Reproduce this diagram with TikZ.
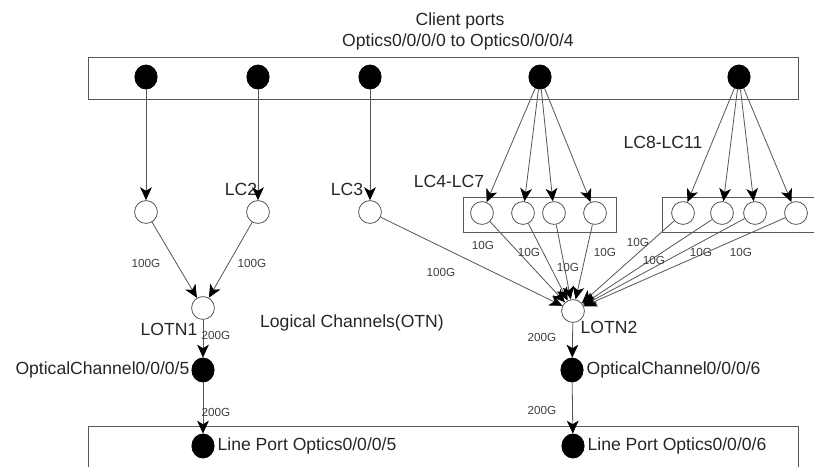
\documentclass[tikz,border=0pt]{standalone}
\usepackage{fontspec}
\setmainfont{Liberation Sans}
\usetikzlibrary{arrows.meta,positioning,calc,shapes.geometric}
\tikzset{port/.style={draw=black,fill=black,ellipse,minimum width=19pt,minimum height=20.5pt,inner sep=0pt}}
\tikzset{chan/.style={draw=black!65,fill=white,circle,minimum size=19.5pt,inner sep=0pt}}
\tikzset{tag/.style={text=black!85,font=\fontsize{15}{18}\selectfont,inner sep=1pt}}
\tikzset{rate/.style={text=black!75,font=\fontsize{10}{12}\selectfont,inner sep=0.5pt}}
\tikzset{frame/.style={draw=black!65,-}}

\begin{document}
\begin{tikzpicture}[->, >={Stealth[length=11pt,width=10pt,inset=3pt,color=black]}, x=0.03cm, y=-0.03cm, line width=0.7pt,
  every edge/.append style={draw=black!65}]
    \fill[white] (0,0) rectangle (814,466);
    \clip (0,0) rectangle (814,466);

    % client ports
    \node[tag] (title) at (460,21) {Client ports};
    \node[tag] (range) at (458,42) {Optics0/0/0/0 to Optics0/0/0/4};
    \draw[frame] (88,57) rectangle (798,99);
    \node[port] (p0) at (146,77) {};
    \node[port] (p1) at (258,77) {};
    \node[port] (p2) at (370,77) {};
    \node[port] (p3) at (540,77) {};
    \node[port] (p4) at (739,77) {};

    % logical channels
    \draw[frame] (463,197) rectangle (616,232);
    \draw[frame] (662,197) rectangle (840,232);
    \node[chan] (lc1) at (146,212) {};
    \node[chan] (lc2) at (258,212) {};
    \node[chan] (lc3) at (370,212) {};
    \node[chan] (lc4) at (482,213) {};
    \node[chan] (lc5) at (523,213) {};
    \node[chan] (lc6) at (554,213) {};
    \node[chan] (lc7) at (595,213) {};
    \node[chan] (lc8) at (683,213) {};
    \node[chan] (lc9) at (722,213) {};
    \node[chan] (lc10) at (755,213) {};
    \node[chan] (lc11) at (796,213) {};
    \node[tag] (lc2name) at (241,189) {LC2};
    \node[tag] (lc3name) at (347,189) {LC3};
    \node[tag] (lc47name) at (449,181) {LC4-LC7};
    \node[tag] (lc811name) at (663,142) {LC8-LC11};

    \node[chan] (lotn1) at (203,308) {};
    \node[chan] (lotn2) at (573,311) {};
    \node[tag] (lotn1name) at (169,329) {LOTN1};
    \node[tag] (lotn2name) at (609,327) {LOTN2};
    \node[tag] (otn) at (352,323) {Logical Channels(OTN)};

    % line side
    \node[port] (och5) at (203,370) {};
    \node[port] (och6) at (572,370) {};
    \node[tag,anchor=east] (och5name) at (191,370) {OpticalChannel0/0/0/5};
    \node[tag,anchor=west] (och6name) at (585,370) {OpticalChannel0/0/0/6};
    \draw[frame] (88,426) rectangle (798,490);
    \node[port] (lp5) at (203,446) {};
    \node[port] (lp6) at (573,446) {};
    \node[tag,anchor=west] (lp5name) at (216,446) {Line Port Optics0/0/0/5};
    \node[tag,anchor=west] (lp6name) at (586,446) {Line Port Optics0/0/0/6};

    \path (p0) edge (lc1);
    \path (p1) edge (lc2);
    \path (p2) edge (lc3);
    \path (p3) edge (lc4) edge (lc5) edge (lc6) edge (lc7);
    \path (p4) edge (lc8) edge (lc9) edge (lc10) edge (lc11);

    \path (lc1) edge (lotn1);
    \path (lc2) edge (lotn1);
    \path (lc3) edge (lotn2);
    \path (lc4) edge (lotn2);
    \path (lc5) edge (lotn2);
    \path (lc6) edge (lotn2);
    \path (lc7) edge (lotn2);
    \path (lc8) edge (lotn2);
    \path (lc9) edge (lotn2);
    \path (lc10) edge (lotn2);
    \path (lc11) edge (lotn2);

    \path (lotn1) edge (och5);
    \path (och5) edge (lp5);
    \path (lotn2) edge (och6);
    \path (och6) edge (lp6);

    % rates
    \node[rate] (r1) at (146,263) {100G};
    \node[rate] (r2) at (252,263) {100G};
    \node[rate] (r3) at (441,272) {100G};
    \node[rate] (r4) at (483,245) {10G};
    \node[rate] (r5) at (529,252) {10G};
    \node[rate] (r6) at (568,267) {10G};
    \node[rate] (r7) at (605,252) {10G};
    \node[rate] (r8) at (638,242) {10G};
    \node[rate] (r9) at (654,260) {10G};
    \node[rate] (r10) at (701,252) {10G};
    \node[rate] (r11) at (741,252) {10G};
    \node[rate] (r12) at (216,335) {200G};
    \node[rate] (r13) at (216,412) {200G};
    \node[rate] (r14) at (542,337) {200G};
    \node[rate] (r15) at (542,410) {200G};
\end{tikzpicture}
\end{document}
